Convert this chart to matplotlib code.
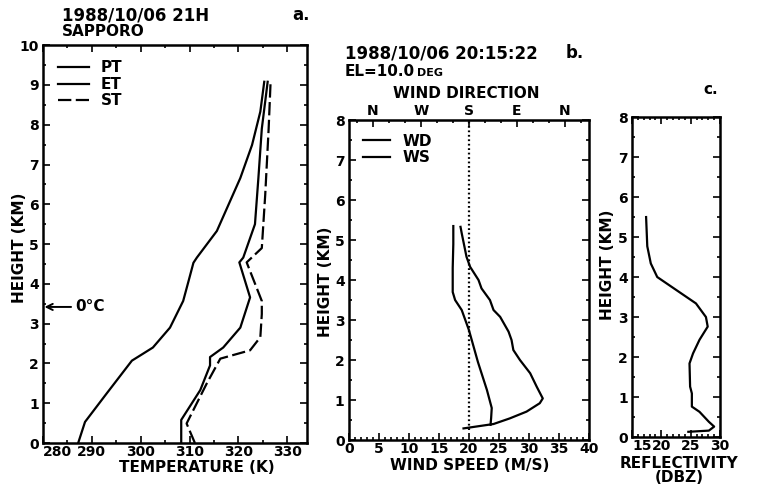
import numpy as np
import matplotlib
matplotlib.use('agg')
import matplotlib.pyplot as plt
from matplotlib.ticker import MultipleLocator

# ---- panel a: temperature profiles (K) vs height (km)
pt_temp = [287.2, 288.6, 293.0, 298.2, 299.9, 302.5, 306.0, 308.7, 309.8, 310.8, 311.5, 315.6, 320.4, 322.8, 324.5, 325.3]
pt_height = [0.0, 0.53, 1.24, 2.07, 2.2, 2.4, 2.9, 3.57, 4.07, 4.53, 4.66, 5.33, 6.66, 7.49, 8.33, 9.08]
et_temp = [308.3, 308.3, 312.2, 314.2, 314.2, 316.9, 320.4, 322.4, 320.2, 321.0, 323.4, 324.1, 324.8, 326.0]
et_height = [0.0, 0.58, 1.33, 1.95, 2.16, 2.4, 2.9, 3.66, 4.54, 4.66, 5.5, 6.66, 7.9, 9.08]
st_temp = [311.1, 309.4, 313.5, 316.3, 322.4, 324.5, 324.8, 324.8, 321.7, 324.8, 325.5, 326.2, 326.6]
st_height = [0.0, 0.49, 1.49, 2.12, 2.33, 2.66, 3.24, 3.57, 4.54, 4.9, 6.24, 7.9, 9.08]
temp_ticks = [280, 290, 300, 310, 320, 330]

# ---- panel b: wind profiles
wd_speed = [17.4, 17.4, 17.3, 17.3, 17.7, 18.8, 20.0, 21.5, 23.0, 23.8, 23.7, 23.6]
wd_height = [5.35, 4.9, 4.3, 3.7, 3.5, 3.25, 2.75, 1.95, 1.25, 0.8, 0.55, 0.38]
ws_speed = [18.6, 18.8, 19.6, 20.2, 21.6, 22.1, 23.5, 24.1, 25.2, 26.6, 27.1, 27.4, 28.5, 30.2, 31.3, 32.3, 31.8, 29.6, 26.8, 24.1, 19.1]
ws_height = [5.33, 5.17, 4.58, 4.33, 4.0, 3.79, 3.5, 3.25, 3.08, 2.71, 2.5, 2.25, 2.0, 1.67, 1.33, 1.04, 0.92, 0.71, 0.54, 0.4, 0.29]
speed_ticks = [0, 5, 10, 15, 20, 25, 30, 35, 40]
dir_labels = ['N', 'W', 'S', 'E', 'N']
dir_deg = [360, 270, 180, 90, 0]
south_speed = 20.0

# ---- panel c: reflectivity profile (dBZ)
refl = [17.4, 17.6, 18.2, 19.3, 22.6, 25.9, 27.6, 27.9, 26.5, 25.4, 24.8, 24.9, 25.2, 25.2, 26.5, 28.1, 29.0, 28.1, 24.6]
refl_height = [5.5, 4.77, 4.34, 4.0, 3.67, 3.34, 3.0, 2.76, 2.43, 2.09, 1.84, 1.26, 1.09, 0.76, 0.63, 0.38, 0.26, 0.16, 0.13]
refl_ticks = [15, 20, 25, 30]

plt.rcParams['font.family'] = ['Liberation Sans Narrow', 'DejaVu Sans']
plt.rcParams['font.weight'] = 'bold'
FS = 11
TFS = 10  # tick labels
LW = 1.6

fig = plt.figure(figsize=(7.6, 4.84), dpi=100)


def px(x, y):
    # figure pixel -> figure fraction
    return x / 760, 1 - y / 484


def style(ax, xticks):
    for s in ax.spines.values():
        s.set_linewidth(1.8)
    ax.set_xticks(xticks)
    ax.set_xticklabels([str(t) for t in xticks])
    ax.get_xticklabels()[0].set_horizontalalignment('left')
    ax.tick_params(which='both', direction='in', top=True, right=True, labelsize=TFS, width=1.2, pad=1.5)
    ax.tick_params(axis='y', pad=3)
    ax.tick_params(which='major', length=5)
    ax.tick_params(which='minor', length=2.5)


# ---- panel a
axa = fig.add_axes([0.0566, 0.0847, 0.347, 0.822])
axa.plot(pt_temp, pt_height, color='black', lw=LW, label='PT')
axa.plot(et_temp, et_height, color='black', lw=LW, label='ET')
axa.plot(st_temp, st_height, color='black', lw=LW, ls=(0, (6, 2)), label='ST')
axa.set_xlim(280, 334)
axa.set_ylim(0, 10)
axa.xaxis.set_minor_locator(MultipleLocator(5))
axa.yaxis.set_major_locator(MultipleLocator(1))
axa.yaxis.set_minor_locator(MultipleLocator(0.5))
style(axa, temp_ticks)
axa.legend(loc='upper left', frameon=False, handlelength=2.0,
           labelspacing=0.1, borderaxespad=0.6, prop={'weight': 'bold', 'size': FS})
axa.annotate('0°C', xy=(280.3, 3.42), xytext=(286.6, 3.42), va='center', fontsize=FS,
             arrowprops=dict(arrowstyle='->', color='black', lw=1.4, shrinkA=1, shrinkB=0))
fig.text(*px(62, 15), '1988/10/06 21H', fontsize=FS + 1, va='center')
fig.text(*px(62, 31), 'SAPPORO', fontsize=FS, va='center')
fig.text(*px(292, 15), 'a.', fontsize=FS + 1, va='center')
fig.text(*px(20, 248), 'HEIGHT (KM)', rotation=90, fontsize=FS, ha='center', va='center')
fig.text(*px(197, 467), 'TEMPERATURE (K)', fontsize=FS, ha='center', va='center')

# ---- panel b
axb = fig.add_axes([0.459, 0.0909, 0.316, 0.661])
axb.plot(wd_speed, wd_height, color='black', lw=LW, label='WD')
axb.plot(ws_speed, ws_height, color='black', lw=LW, label='WS')
axb.plot([south_speed, south_speed], [0.25, 8], color='black', lw=1.6, ls=(0, (0.8, 1.2)))
axb.set_xlim(0, 40)
axb.set_ylim(0, 8)
axb.xaxis.set_minor_locator(MultipleLocator(1))
axb.yaxis.set_major_locator(MultipleLocator(1))
axb.yaxis.set_minor_locator(MultipleLocator(0.5))
style(axb, speed_ticks)
axb.get_xticklabels()[0].set_horizontalalignment('center')
axb.tick_params(which='both', top=False)
sec = axb.secondary_xaxis('top', functions=(lambda x: 360 - (x - 4) * 90 / 8,
                                            lambda d: 4 + (360 - d) * 8 / 90))
sec.set_xticks(dir_deg)
sec.set_xticklabels(dir_labels, fontweight='bold')
sec.xaxis.set_minor_locator(MultipleLocator(30))
sec.tick_params(which='both', direction='in', labelsize=TFS, width=1.2, pad=1.5)
sec.tick_params(which='major', length=5)
sec.tick_params(which='minor', length=2.5)
axb.legend(loc='upper left', frameon=False, handlelength=1.8,
           labelspacing=0.1, borderaxespad=0.5, prop={'weight': 'bold', 'size': FS})
fig.text(*px(345, 53), '1988/10/06 20:15:22', fontsize=FS + 1, va='center')
fig.text(*px(566, 53), 'b.', fontsize=FS + 1, va='center')
el = fig.text(*px(345, 71), 'EL=10.0', fontsize=FS, va='center')
fig.add_artist(matplotlib.text.Annotation('DEG', xy=(1.0, 0.4), xycoords=el,
                                          xytext=(1, 0), textcoords='offset points',
                                          fontsize=FS - 3, va='center', ha='left'))
fig.text(*px(466, 93), 'WIND DIRECTION', fontsize=FS, ha='center', va='center')
fig.text(*px(325, 282), 'HEIGHT (KM)', rotation=90, fontsize=FS, ha='center', va='center')
fig.text(*px(470, 465), 'WIND SPEED (M/S)', fontsize=FS, ha='center', va='center')

# ---- panel c
axc = fig.add_axes([0.8316, 0.0971, 0.1158, 0.661])
axc.plot(refl, refl_height, color='black', lw=LW)
axc.set_xlim(15, 30)
axc.set_ylim(0, 8)
axc.xaxis.set_minor_locator(MultipleLocator(1))
axc.yaxis.set_major_locator(MultipleLocator(1))
axc.yaxis.set_minor_locator(MultipleLocator(0.5))
style(axc, refl_ticks)
fig.text(*px(703, 89), 'c.', fontsize=FS, va='center')
fig.text(*px(608, 265), 'HEIGHT (KM)', rotation=90, fontsize=FS, ha='center', va='center')
fig.text(*px(679, 463), 'REFLECTIVITY', fontsize=FS, ha='center', va='center')
fig.text(*px(679, 478), '(DBZ)', fontsize=FS, ha='center', va='center')

fig.savefig('out.png', dpi=100)
